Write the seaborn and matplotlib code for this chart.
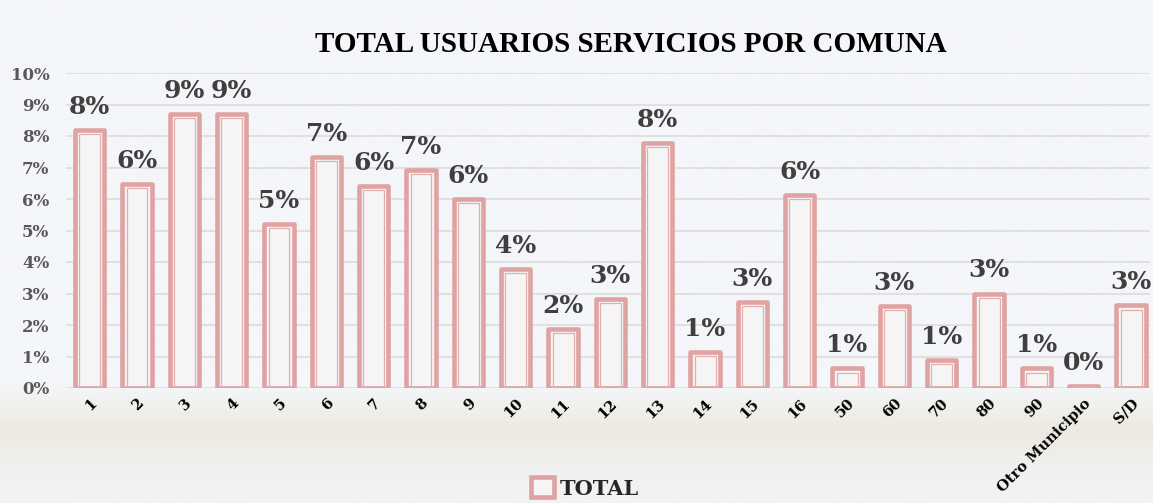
import numpy as np
import pandas as pd
import matplotlib
matplotlib.use("Agg")
import matplotlib.pyplot as plt
import seaborn as sns
from matplotlib.patches import Rectangle
from matplotlib.ticker import FuncFormatter, MultipleLocator

# ---- data ----
comunas = ["1", "2", "3", "4", "5", "6", "7", "8", "9", "10", "11", "12", "13",
           "14", "15", "16", "50", "60", "70", "80", "90", "Otro Municipio", "S/D"]
porcentaje = [8.2, 6.48, 8.7, 8.7, 5.2, 7.33, 6.41, 6.92, 6.0, 3.78, 1.87, 2.83, 7.78,
              1.14, 2.73, 6.13, 0.62, 2.6, 0.9, 3.0, 0.62, 0.06, 2.62]
serie = "TOTAL"
titulo = "TOTAL USUARIOS SERVICIOS POR COMUNA"

df = pd.DataFrame({"comuna": comunas, "pct": porcentaje})

sns.set_theme(style="white")
plt.rcParams["font.family"] = ["DejaVu Serif"]

PINK = "#dfa3a3"
W, H = 1153, 503
fig = plt.figure(figsize=(W / 100, H / 100), dpi=100)

# background gradient
bg = fig.add_axes([0, 0, 1, 1], zorder=-10)
ys = np.linspace(0, 1, 256)
top = np.array([0xf4, 0xf6, 0xf9]) / 255
beige = np.array([0xec, 0xea, 0xe0]) / 255
bot = np.array([0xf2, 0xf2, 0xf2]) / 255
cols = []
for y in ys:  # y=0 top of figure
    py = y * H
    if py < 385:
        c = top
    elif py < 432:
        t = (py - 385) / 47
        c = top * (1 - t) + beige * t
    elif py < 480:
        t = (py - 432) / 48
        c = beige * (1 - t) + bot * t
    else:
        c = bot
    cols.append(c)
grad = np.array(cols)[:, None, :]
bg.imshow(grad, aspect="auto", extent=[0, 1, 0, 1])
bg.set_axis_off()

ax = fig.add_axes([66 / W, 1 - 388 / H, 1084 / W, 315 / H])
ax.set_facecolor("none")

sns.barplot(data=df, x="comuna", y="pct", ax=ax, width=0.62, color="#f5f5f6",
            edgecolor=PINK, linewidth=3.3, label=serie, zorder=3)
for p in ax.patches:
    p.set_joinstyle("round")

ax.set_xlim(-0.5, 22.4)
ax.set_ylim(0, 10)

# inner thin line of the double border
dx = 4.2 / 47.33
dy = 4.2 / 31.5
for p in list(ax.patches):
    x0, w, h = p.get_x(), p.get_width(), p.get_height()
    ih = max(h - dy, 0.02)
    ax.add_patch(Rectangle((x0 + dx, 0), w - 2 * dx, ih, fill=False,
                           edgecolor="#e4aeae", linewidth=0.9, zorder=4))

# value labels
labels = [f"{v:.0f}%" for v in df["pct"]]
ax.bar_label(ax.containers[0], labels=labels, padding=8, fontsize=18,
             fontweight="bold", color="#3f3f3f", family="DejaVu Serif")

# axes styling
ax.yaxis.set_major_locator(MultipleLocator(1))
ax.yaxis.set_major_formatter(FuncFormatter(lambda v, _: f"{v:.0f}%"))
ax.grid(axis="y", color="#e0e0e0", linewidth=1.4, zorder=0)
ax.grid(axis="x", visible=False)
for s in ax.spines.values():
    s.set_visible(False)
ax.tick_params(axis="y", length=0, pad=12, labelsize=12, labelcolor="#595959")
ax.tick_params(axis="x", length=0, pad=6, labelsize=10.5, labelcolor="#000000")
for t in ax.get_yticklabels():
    t.set_fontweight("bold")
for t in ax.get_xticklabels():
    t.set_fontweight("bold")
    t.set_rotation(45)
    t.set_ha("right")
    t.set_rotation_mode("anchor")
ax.set_xlabel("")
ax.set_ylabel("")

fig.text(631 / W, 1 - 45 / H, titulo, ha="center", va="center", fontsize=21,
         fontweight="bold", color="#000000", family="Liberation Serif")

leg = ax.legend(loc="center", bbox_to_anchor=(585 / W, 1 - 488 / H),
                bbox_transform=fig.transFigure, frameon=False,
                prop={"family": "DejaVu Serif", "weight": "bold", "size": 15},
                handlelength=1.1, handleheight=1.1, handletextpad=0.3)

fig.savefig("out.png", dpi=100)
